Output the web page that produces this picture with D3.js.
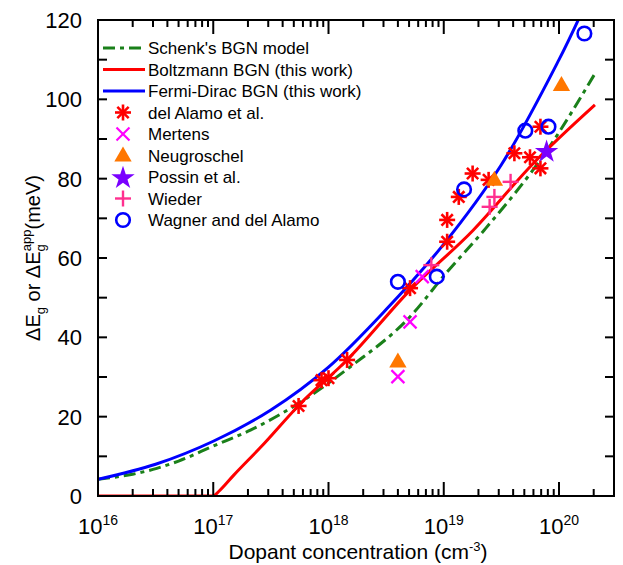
<!DOCTYPE html>
<html>
<head>
<meta charset="utf-8">
<script src="https://cdn.jsdelivr.net/npm/d3@7"></script>
<style>
  html, body { margin: 0; padding: 0; background: #fff; }
  svg { display: block; font-family: "Liberation Sans", Arial, sans-serif; }
</style>
</head>
<body>
<svg id="chart" width="623" height="565"></svg>
<script>
// Band-gap narrowing vs dopant concentration (cm^-3), ΔEg in meV

// Model curves
const schenkConc = [1e16, 2e16, 3e16, 5e16, 1e17, 2.1e17, 5.6e17, 1.55e18, 5.1e18, 1.07e19, 2.24e19, 7.9e19, 2.1e20];
const schenkGap  = [4.2, 5.5, 6.7, 8.8, 12.6, 16.6, 23.5, 32.6, 45.2, 56.5, 67, 87.2, 107];

const boltzConc = [1e16, 5e16, 1e17, 1.12e17, 1.5e17, 2.6e17, 5.75e17, 1.45e18, 5.1e18, 1.8e19, 6e19, 2.05e20];
const boltzGap  = [0, 0, 0, 1.2, 5.2, 12.4, 23.4, 34.3, 51.9, 67, 83.9, 98.6];

const fdConc = [1e16, 3.16e16, 1e17, 3.16e17, 1e18, 3.16e18, 1e19, 3.16e19, 1e20, 1.58e20];
const fdGap  = [4.2, 8.0, 13.8, 21.7, 32.5, 47, 63.5, 83.5, 110, 122];

// Measured data sets
const delAlamoConc = [5.5e17, 8.7e17, 1e18, 1.45e18, 5.1e18, 1.07e19, 1.07e19, 1.35e19, 1.78e19, 2.45e19, 4.1e19, 5.6e19, 6.9e19, 6.9e19];
const delAlamoGap  = [22.7, 29.2, 29.7, 34.3, 52.4, 64.1, 69.6, 75.4, 81.3, 79.7, 86.4, 85.4, 82.6, 93.1];

const mertensConc = [4e18, 5.1e18, 6.5e18];
const mertensGap  = [30.1, 43.9, 55.3];

const neugroschelConc = [4e18, 2.75e19, 1.05e20];
const neugroschelGap  = [33.9, 79.7, 103.6];

const possinConc = [7.8e19];
const possinGap  = [87.0];

const wiederConc = [7.8e18, 2.5e19, 2.75e19, 3.8e19];
const wiederGap  = [58.2, 72.9, 75.4, 79.2];

const wagnerConc = [4e18, 8.7e18, 1.5e19, 5.1e19, 8.1e19, 1.66e20];
const wagnerGap  = [54.0, 55.3, 77.3, 92.1, 93.1, 116.6];

// Axis ticks
const xDecades = [1e16, 1e17, 1e18, 1e19, 1e20];
const xDecadeExp = ["16", "17", "18", "19", "20"];
const yTickValues = [0, 20, 40, 60, 80, 100, 120];

const m = { left: 98, top: 20, right: 614, bottom: 496 };

const svg = d3.select("#chart");

const x = d3.scaleLog().domain([1e16, 3e20]).range([m.left, m.right]);
const y = d3.scaleLinear().domain([0, 120]).range([m.bottom, m.top]);

const colors = {
  schenk: "#1a801a",
  boltz: "#ff0000",
  fd: "#0000ff",
  delAlamo: "#ff0000",
  mertens: "#ff00ff",
  neugroschel: "#ff7700",
  possin: "#7a00ff",
  wieder: "#ff2f8f",
  wagner: "#0000ff"
};

svg.append("defs").append("clipPath").attr("id", "plotClip")
  .append("rect")
  .attr("x", m.left).attr("y", m.top)
  .attr("width", m.right - m.left).attr("height", m.bottom - m.top);

const plot = svg.append("g").attr("clip-path", "url(#plotClip)");

const line = d3.line()
  .x(d => x(d[0]))
  .y(d => y(d[1]))
  .curve(d3.curveMonotoneX);

const zip = (a, b) => a.map((v, i) => [v, b[i]]);

plot.append("path").datum(zip(schenkConc, schenkGap))
  .attr("d", line).attr("fill", "none")
  .attr("stroke", colors.schenk).attr("stroke-width", 3)
  .attr("stroke-dasharray", "12,5,4,5");

plot.append("path").datum(zip(boltzConc, boltzGap))
  .attr("d", line).attr("fill", "none")
  .attr("stroke", colors.boltz).attr("stroke-width", 3);

plot.append("path").datum(zip(fdConc, fdGap))
  .attr("d", line.curve(d3.curveCatmullRom)).attr("fill", "none")
  .attr("stroke", colors.fd).attr("stroke-width", 3);

// Marker drawing helpers
function asterisk(g, cx, cy, color) {
  const r = 8;
  const s = g.append("g").attr("stroke", color).attr("stroke-width", 2.6).attr("stroke-linecap", "butt");
  [0, 45, 90, 135].forEach(a => {
    const rad = a * Math.PI / 180;
    const dx = r * Math.cos(rad), dy = r * Math.sin(rad);
    s.append("line").attr("x1", cx - dx).attr("y1", cy - dy).attr("x2", cx + dx).attr("y2", cy + dy);
  });
}
function cross(g, cx, cy, color) {
  const r = 6.5;
  const s = g.append("g").attr("stroke", color).attr("stroke-width", 2.2);
  s.append("line").attr("x1", cx - r).attr("y1", cy - r).attr("x2", cx + r).attr("y2", cy + r);
  s.append("line").attr("x1", cx - r).attr("y1", cy + r).attr("x2", cx + r).attr("y2", cy - r);
}
function plus(g, cx, cy, color) {
  const r = 8;
  const s = g.append("g").attr("stroke", color).attr("stroke-width", 2.4);
  s.append("line").attr("x1", cx - r).attr("y1", cy).attr("x2", cx + r).attr("y2", cy);
  s.append("line").attr("x1", cx).attr("y1", cy - r).attr("x2", cx).attr("y2", cy + r);
}
function triangle(g, cx, cy, color) {
  g.append("path")
    .attr("d", d3.symbol().type(d3.symbolTriangle).size(130)())
    .attr("transform", `translate(${cx},${cy + 1})`)
    .attr("fill", color);
}
function star(g, cx, cy, color) {
  g.append("path")
    .attr("d", d3.symbol().type(d3.symbolStar).size(170)())
    .attr("transform", `translate(${cx},${cy + 1})`)
    .attr("fill", color);
}
function circle(g, cx, cy, color) {
  g.append("circle").attr("cx", cx).attr("cy", cy).attr("r", 6.8)
    .attr("fill", "none").attr("stroke", color).attr("stroke-width", 2.6);
}

const markers = svg.append("g");
function drawSet(conc, gap, fn, color) {
  conc.forEach((c, i) => fn(markers, x(c), y(gap[i]), color));
}
drawSet(delAlamoConc, delAlamoGap, asterisk, colors.delAlamo);
drawSet(mertensConc, mertensGap, cross, colors.mertens);
drawSet(neugroschelConc, neugroschelGap, triangle, colors.neugroschel);
drawSet(possinConc, possinGap, star, colors.possin);
drawSet(wiederConc, wiederGap, plus, colors.wieder);
drawSet(wagnerConc, wagnerGap, circle, colors.wagner);

// Frame and ticks (inward)
const axes = svg.append("g").attr("stroke", "#000").attr("stroke-width", 2);
axes.append("rect")
  .attr("x", m.left).attr("y", m.top)
  .attr("width", m.right - m.left).attr("height", m.bottom - m.top)
  .attr("fill", "none");

const minorX = [];
for (let e = 16; e <= 20; e++) {
  for (let k = 2; k <= 9; k++) {
    const v = k * Math.pow(10, e);
    if (v < 3e20) minorX.push(v);
  }
}
xDecades.forEach(v => {
  axes.append("line").attr("x1", x(v)).attr("x2", x(v)).attr("y1", m.bottom).attr("y2", m.bottom - 14);
  axes.append("line").attr("x1", x(v)).attr("x2", x(v)).attr("y1", m.top).attr("y2", m.top + 14);
});
minorX.forEach(v => {
  axes.append("line").attr("x1", x(v)).attr("x2", x(v)).attr("y1", m.bottom).attr("y2", m.bottom - 7);
  axes.append("line").attr("x1", x(v)).attr("x2", x(v)).attr("y1", m.top).attr("y2", m.top + 7);
});
d3.range(10, 120, 10).forEach(v => {
  axes.append("line").attr("x1", m.left).attr("x2", m.left + 9).attr("y1", y(v)).attr("y2", y(v));
  axes.append("line").attr("x1", m.right).attr("x2", m.right - 9).attr("y1", y(v)).attr("y2", y(v));
});

// Tick labels
const yLab = svg.append("g").attr("font-size", 22).attr("text-anchor", "end").attr("fill", "#000");
yTickValues.forEach(v => {
  yLab.append("text").attr("x", m.left - 16).attr("y", y(v)).attr("dy", "0.36em").text(v);
});

const xLab = svg.append("g").attr("font-size", 22).attr("text-anchor", "middle").attr("fill", "#000");
xDecades.forEach((v, i) => {
  const t = xLab.append("text").attr("x", x(v)).attr("y", 534);
  t.append("tspan").text("10");
  t.append("tspan").attr("font-size", 14).attr("dy", -9).text(xDecadeExp[i]);
});

// Axis titles
const xt = svg.append("text").attr("x", 358).attr("y", 559)
  .attr("text-anchor", "middle").attr("font-size", 21).attr("fill", "#000");
xt.append("tspan").text("Dopant concentration (cm");
xt.append("tspan").attr("font-size", 13).attr("dy", -8).text("-3");
xt.append("tspan").attr("dy", 8).text(")");

const yt = svg.append("text")
  .attr("transform", "translate(40,258) rotate(-90)")
  .attr("text-anchor", "middle").attr("font-size", 20).attr("fill", "#000");
yt.append("tspan").text("ΔE");
yt.append("tspan").attr("font-size", 13).attr("dy", 5).text("g");
yt.append("tspan").attr("dy", -5).text(" or ΔE");
yt.append("tspan").attr("font-size", 13).attr("dy", 5).text("g");
yt.append("tspan").attr("font-size", 13).attr("dx", -7).attr("dy", -14).text("app");
yt.append("tspan").attr("dy", 9).text("(meV)");

// Legend
const legendItems = [
  { label: "Schenk's BGN model", type: "line", color: colors.schenk, dash: "12,5,4,5" },
  { label: "Boltzmann BGN (this work)", type: "line", color: colors.boltz },
  { label: "Fermi-Dirac BGN (this work)", type: "line", color: colors.fd },
  { label: "del Alamo et al.", type: asterisk, color: colors.delAlamo },
  { label: "Mertens", type: cross, color: colors.mertens },
  { label: "Neugroschel", type: triangle, color: colors.neugroschel },
  { label: "Possin et al.", type: star, color: colors.possin },
  { label: "Wieder", type: plus, color: colors.wieder },
  { label: "Wagner and del Alamo", type: circle, color: colors.wagner }
];
const legend = svg.append("g");
legendItems.forEach((it, i) => {
  const ly = 48 + i * 21.5;
  if (it.type === "line") {
    legend.append("line").attr("x1", 103).attr("x2", 145).attr("y1", ly).attr("y2", ly)
      .attr("stroke", it.color).attr("stroke-width", 3)
      .attr("stroke-dasharray", it.dash || null);
  } else {
    it.type(legend, 123, ly, it.color);
  }
  legend.append("text").attr("x", 148).attr("y", ly).attr("dy", "0.36em")
    .attr("font-size", 17).attr("fill", "#000").text(it.label);
});
</script>
</body>
</html>
